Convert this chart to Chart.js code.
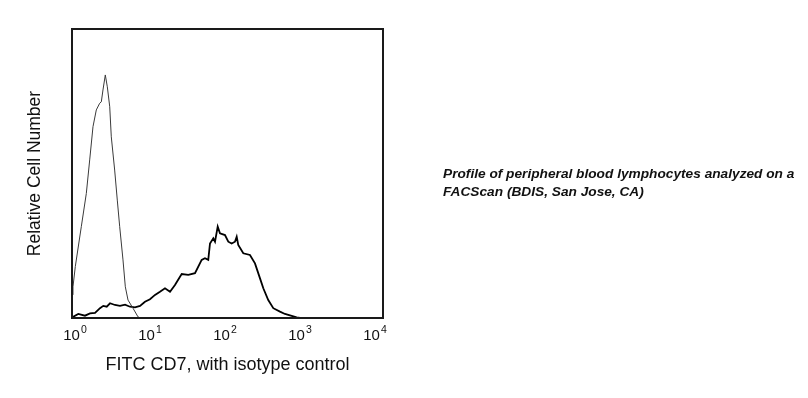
<!DOCTYPE html>
<html>
<head>
<meta charset="utf-8">
<script src="https://cdn.jsdelivr.net/npm/chart.js@4.4.1/dist/chart.umd.min.js"></script>
<style>
  html, body { margin: 0; padding: 0; background: #fff; }
  #wrap { position: relative; width: 808px; height: 398px; }
  #note {
    position: absolute; left: 443px; top: 165px;
    font: italic bold 13.7px "Liberation Sans", Arial, sans-serif;
    line-height: 17.7px; color: #111; white-space: nowrap;
  }
</style>
</head>
<body>
<div id="wrap">
  <canvas id="c" width="808" height="398"></canvas>
  <div id="note">Profile of peripheral blood lymphocytes analyzed on a<br>FACScan (BDIS, San Jose, CA)</div>
</div>
<script>
// log10 fluorescence (decades) and relative cell number
var cd7X = [-0.04, -0.023, 0.044, 0.133, 0.2, 0.267, 0.333, 0.377, 0.423, 0.467, 0.533, 0.6, 0.667,
  0.733, 0.8, 0.867, 0.933, 1.0, 1.067, 1.133, 1.2, 1.267, 1.333, 1.4, 1.423, 1.511, 1.6, 1.689,
  1.733, 1.777, 1.8, 1.844, 1.867, 1.903, 1.933, 2.0, 2.044, 2.089, 2.133, 2.156, 2.177, 2.244,
  2.333, 2.4, 2.467, 2.511, 2.577, 2.644, 2.733, 2.8, 2.889, 2.956, 3.0];
var cd7Y = [0, 0.4, 1.4, 0.8, 1.6, 1.8, 3.4, 4.2, 3.9, 5.1, 4.5, 4.2, 4.6,
  3.9, 3.7, 4.2, 5.6, 6.5, 8.0, 9.1, 10.3, 9.1, 11.4, 14.3, 15.2, 14.9, 15.5, 20.1,
  20.7, 20.1, 25.8, 27.6, 26.4, 31.6, 29.3, 28.7, 26.4, 25.8, 26.4, 28.1, 25.3, 22.4,
  21.8, 18.9, 13.7, 10.3, 6.2, 3.4, 2.2, 1.4, 0.7, 0.2, 0];

var isoX = [-0.04, -0.027, 0.004, 0.084, 0.151, 0.196, 0.24, 0.284, 0.329, 0.351, 0.373, 0.404,
  0.431, 0.463, 0.484, 0.529, 0.564, 0.596, 0.64, 0.671, 0.707, 0.773, 0.84, 0.867];
var isoY = [8, 10.8, 17.8, 31.6, 43.1, 54.7, 66.2, 72.0, 74.3, 74.8, 78.9, 84.1,
  80.0, 73.1, 62.7, 51.2, 40.8, 31.6, 20.1, 10.8, 6.2, 3.4, 0.4, 0];

var xTickExps = [0, 1, 2, 3, 4];
var xTitle = "FITC CD7, with isotype control";
var yTitle = "Relative Cell Number";

function pts(xs, ys) {
  return xs.map(function (x, i) { return { x: x, y: ys[i] }; });
}

Chart.defaults.font.family = '"Liberation Sans", Arial, sans-serif';
Chart.defaults.color = "#111";

var frame = {
  id: "frame",
  afterDraw: function (chart) {
    var ctx = chart.ctx, a = chart.chartArea, sx = chart.scales.x;
    ctx.save();
    ctx.strokeStyle = "#1a1a1a";
    ctx.lineWidth = 2;
    ctx.strokeRect(a.left, a.top, a.right - a.left, a.bottom - a.top);
    // decade labels 10^n
    ctx.fillStyle = "#111";
    ctx.textBaseline = "alphabetic";
    ctx.textAlign = "left";
    xTickExps.forEach(function (e) {
      var px = sx.getPixelForValue(e);
      ctx.font = '15px "Liberation Sans", Arial, sans-serif';
      var w1 = ctx.measureText("10").width;
      ctx.font = '10.5px "Liberation Sans", Arial, sans-serif';
      var w2 = ctx.measureText(String(e)).width;
      var x0 = px - (w1 + w2 + 1) / 2;
      ctx.font = '15px "Liberation Sans", Arial, sans-serif';
      ctx.fillText("10", x0, sx.top + 22);
      ctx.font = '10.5px "Liberation Sans", Arial, sans-serif';
      ctx.fillText(String(e), x0 + w1 + 1, sx.top + 15.3);
    });
    ctx.restore();
  }
};

new Chart(document.getElementById("c"), {
  type: "line",
  data: {
    datasets: [
      {
        label: "Isotype control",
        data: pts(isoX, isoY),
        borderColor: "#3a3a3a",
        borderWidth: 1,
        pointRadius: 0,
        tension: 0
      },
      {
        label: "CD7",
        data: pts(cd7X, cd7Y),
        borderColor: "#000",
        borderWidth: 1.8,
        pointRadius: 0,
        tension: 0
      }
    ]
  },
  options: {
    responsive: false,
    animation: false,
    layout: { padding: { left: 0, top: 29, right: 425, bottom: 0 } },
    plugins: { legend: { display: false }, tooltip: { enabled: false } },
    scales: {
      x: {
        type: "linear",
        min: -0.04,
        max: 4.107,
        grid: { display: false },
        border: { display: false },
        ticks: { display: false },
        afterBuildTicks: function (s) { s.ticks = xTickExps.map(function (v) { return { value: v }; }); },
        afterFit: function (s) { s.height = 80; },
        title: {
          display: true,
          text: xTitle,
          font: { size: 18 },
          padding: { top: 0, bottom: 22 }
        }
      },
      y: {
        min: 0,
        max: 100,
        grid: { display: false },
        border: { display: false },
        ticks: { display: false },
        afterFit: function (s) { s.width = 72; },
        title: {
          display: true,
          text: yTitle,
          font: { size: 17.5 },
          padding: { top: 25, bottom: 0 }
        }
      }
    }
  },
  plugins: [frame]
});
</script>
</body>
</html>
